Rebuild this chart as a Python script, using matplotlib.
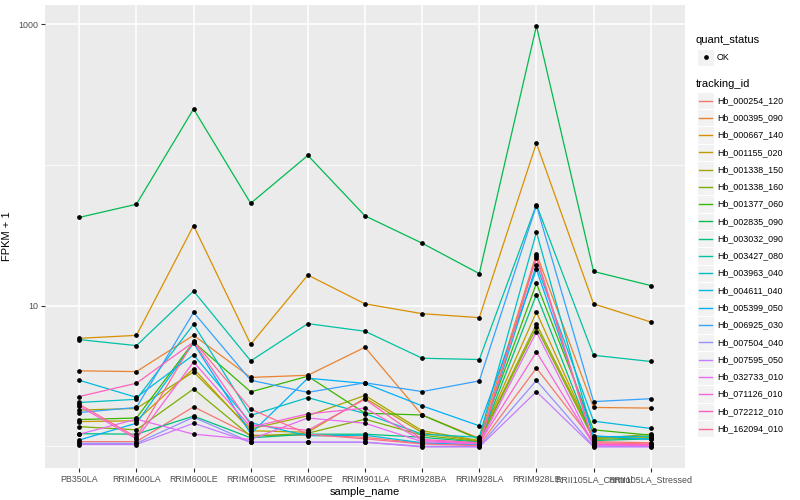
import numpy as np
import matplotlib
matplotlib.use("Agg")
import matplotlib.pyplot as plt
from matplotlib.patches import Rectangle

plt.rcParams['font.family'] = ['Liberation Sans', 'DejaVu Sans']

samples = ["PB350LA", "RRIM600LA", "RRIM600LE", "RRIM600SE", "RRIM600PE", "RRIM901LA",
           "RRIM928BA", "RRIM928LA", "RRIM928LE", "RRII105LA_Control", "RRII105LA_Stressed"]

tracking_ids = ["Hb_000254_120", "Hb_000395_090", "Hb_000667_140", "Hb_001155_020",
                "Hb_001338_150", "Hb_001338_160", "Hb_001377_060", "Hb_002835_090",
                "Hb_003032_090", "Hb_003427_080", "Hb_003963_040", "Hb_004611_040",
                "Hb_005399_050", "Hb_006925_030", "Hb_007504_040", "Hb_007595_050",
                "Hb_032733_010", "Hb_071126_010", "Hb_072212_010", "Hb_162094_010"]

# ggplot default hue palette for 20 groups
colors = ["#F8766D", "#EA8331", "#D89000", "#C09B00", "#A3A500", "#7CAE00", "#39B600",
          "#00BB4E", "#00BF7D", "#00C1A3", "#00BFC4", "#00BAE0", "#00B0F6", "#35A2FF",
          "#9590FF", "#C77CFF", "#E76BF3", "#FA62DB", "#FF62BC", "#FF6C91"]

# FPKM + 1, one row per tracking id, columns follow samples
fpkm_plus1 = [
    [1.08, 1.08, 1.91, 1.20, 1.20, 1.16, 1.05, 1.02, 3.6, 1.08, 1.06],
    [3.44, 3.40, 6.16, 3.09, 3.20, 5.06, 1.67, 1.14, 23.4, 1.89, 1.87],
    [5.86, 6.15, 37.1, 5.32, 16.5, 10.3, 8.77, 8.22, 143, 10.3, 7.66],
    [1.50, 1.52, 3.57, 1.29, 1.26, 2.20, 1.25, 1.09, 9.0, 1.13, 1.22],
    [1.81, 1.86, 3.38, 1.33, 1.65, 2.30, 1.29, 1.10, 7.4, 1.15, 1.17],
    [1.38, 1.31, 2.56, 1.18, 1.24, 1.56, 1.20, 1.08, 7.0, 1.12, 1.15],
    [1.55, 1.59, 5.52, 2.44, 3.15, 1.72, 1.67, 1.12, 14.4, 1.31, 1.20],
    [42.4, 52.6, 250, 53.4, 117, 43.5, 27.8, 16.9, 972, 17.5, 13.9],
    [1.23, 1.22, 1.64, 1.15, 1.22, 1.22, 1.16, 1.07, 12.0, 1.10, 1.13],
    [5.74, 5.20, 12.7, 4.05, 7.45, 6.58, 4.23, 4.14, 52.3, 4.44, 4.01],
    [2.05, 2.16, 7.37, 1.66, 2.22, 1.71, 1.22, 1.16, 33.3, 1.17, 1.18],
    [2.95, 2.23, 4.47, 1.47, 1.19, 1.20, 1.06, 1.03, 19.5, 1.51, 1.34],
    [1.11, 1.46, 5.41, 1.23, 3.05, 2.80, 1.94, 1.40, 18.1, 1.19, 1.12],
    [1.74, 1.89, 8.96, 2.95, 2.42, 2.83, 2.45, 2.92, 51.5, 2.08, 2.18],
    [1.05, 1.05, 1.61, 1.07, 1.07, 1.07, 1.00, 1.00, 2.94, 1.00, 1.00],
    [1.03, 1.03, 1.46, 1.07, 1.07, 1.07, 0.99, 0.99, 2.45, 0.99, 0.99],
    [1.22, 1.56, 1.22, 1.12, 1.59, 1.46, 1.08, 1.04, 6.5, 1.02, 1.01],
    [1.93, 1.13, 3.98, 1.37, 1.70, 1.87, 1.10, 1.05, 4.69, 1.03, 1.02],
    [2.26, 2.81, 5.52, 1.42, 1.30, 2.16, 1.12, 1.06, 21.9, 1.04, 1.03],
    [1.99, 1.16, 5.60, 1.84, 1.22, 1.13, 1.04, 1.01, 22.7, 1.06, 1.04],
]

W, H = 800, 500
fig = plt.figure(figsize=(8, 5), dpi=100)
ax = fig.add_axes([45 / W, 1 - 468 / H, 640 / W, 463 / H])
ax.set_facecolor("#EBEBEB")

x = np.arange(len(samples))
for vals, col in zip(fpkm_plus1, colors):
    ax.plot(x, vals, color=col, lw=0.9, zorder=3)
for vals in fpkm_plus1:
    ax.plot(x, vals, ls="none", marker="o", ms=2.4, color="black", zorder=4)

ax.set_yscale("log")
allv = np.log10(np.array(fpkm_plus1))
lo, hi = allv.min(), allv.max()
pad = 0.05 * (hi - lo)
ax.set_ylim(10 ** (lo - pad), 10 ** (hi + pad))
ax.set_xlim(-0.6, len(samples) - 0.4)

ax.set_yticks([10, 1000])
ax.set_yticklabels(["10", "1000"])
ax.set_yticks([1, 100], minor=True)
ax.yaxis.set_minor_formatter(plt.NullFormatter())
ax.set_xticks(x)
ax.set_xticklabels(samples)
ax.grid(True, which="major", color="white", lw=1.1, zorder=0)
ax.grid(True, which="minor", axis="y", color="white", lw=0.5, zorder=0)
ax.set_axisbelow(True)
ax.tick_params(axis="both", which="major", length=3, width=0.8, color="#333333",
               labelsize=6.4, labelcolor="#4D4D4D", pad=2)
ax.tick_params(axis="y", which="minor", length=0)
for s in ax.spines.values():
    s.set_visible(False)

ax.set_xlabel("sample_name", fontsize=8, labelpad=2)
ax.set_ylabel("FPKM + 1", fontsize=8, labelpad=4)

# legend drawn in pixel coordinates
lg = fig.add_axes([0, 0, 1, 1], facecolor="none")
lg.set_xlim(0, W)
lg.set_ylim(H, 0)
lg.axis("off")

lg.text(696, 40, "quant_status", fontsize=8, va="center", ha="left")
lg.add_patch(Rectangle((697, 48.5), 17, 17, fc="#F2F2F2", ec="white", lw=0.8))
lg.plot([705.5], [57], marker="o", ms=2.4, color="black")
lg.text(717, 57, "OK", fontsize=6.4, va="center", ha="left")

lg.text(696, 84, "tracking_id", fontsize=8, va="center", ha="left")
y0, step = 100.5, 17.27
for i, (tid, col) in enumerate(zip(tracking_ids, colors)):
    yc = y0 + i * step
    lg.add_patch(Rectangle((697, yc - step / 2), 17, step, fc="#F2F2F2", ec="white", lw=0.8))
    lg.plot([699, 712], [yc, yc], color=col, lw=1.0)
    lg.text(717, yc, tid, fontsize=6.4, va="center", ha="left")

fig.savefig("out.png", dpi=100)
